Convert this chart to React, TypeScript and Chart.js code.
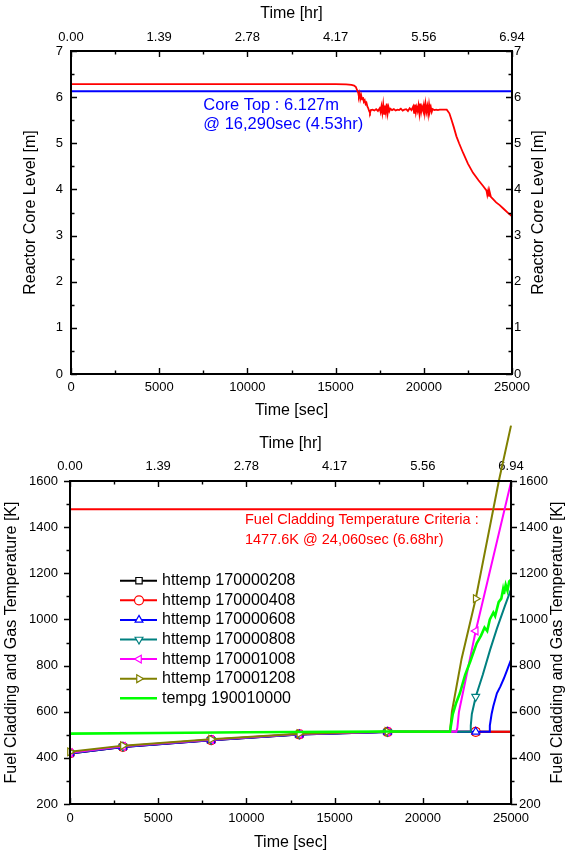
import React, { useEffect, useRef } from 'react';
import { Chart, registerables } from 'chart.js';

Chart.register(...registerables);

const FONT = "'Liberation Sans', Arial, Helvetica, sans-serif";
Chart.defaults.font.family = FONT;

// ---------------- shared axis data ----------------
const timeTicksSec = [0, 5000, 10000, 15000, 20000, 25000];
const timeTicksHr = ['0.00', '1.39', '2.78', '4.17', '5.56', '6.94'];
const levelTicks = [0, 1, 2, 3, 4, 5, 6, 7];
const tempTicks = [200, 400, 600, 800, 1000, 1200, 1400, 1600];

// ---------------- top chart: reactor core level ----------------
const coreTimeSec = [
  0, 5000, 10000, 15000, 15600, 15900, 16050, 16150, 16220, 16280,
  16320, 16360, 16400, 16450, 16500, 16550, 16600, 16650, 16700, 16750,
  16800, 16850, 16900, 16950, 17000, 17100, 17200, 17300, 17400, 17500,
  17550, 17600, 17650, 17700, 17750, 17800, 17850, 17900, 17950, 18000,
  18050, 18100, 18200, 18300, 18400, 18500, 18600, 18700, 18800, 18900,
  19000, 19100, 19200, 19300, 19400, 19450, 19500, 19550, 19600, 19650,
  19700, 19750, 19800, 19850, 19900, 19950, 20000, 20050, 20100, 20150,
  20200, 20250, 20300, 20350, 20400, 20450, 20500, 20600, 20700, 20800,
  20900, 21000, 21300, 21450, 21570, 21700, 21850, 22000, 22230, 22500,
  22790, 23100, 23350, 23550, 23600, 23650, 23700, 23750, 23800, 23900,
  24100, 24300, 24550, 24800, 25000,
];
const coreLevelM = [
  6.28, 6.28, 6.28, 6.28, 6.275, 6.265, 6.25, 6.22, 6.15, 6.1,
  6.02, 6.08, 5.96, 6.04, 5.95, 6.0, 5.9, 5.93, 5.85, 5.88,
  5.8, 5.76, 5.7, 5.66, 5.72, 5.73, 5.71, 5.74, 5.7, 5.76,
  5.68, 5.8, 5.66, 5.84, 5.64, 5.82, 5.68, 5.86, 5.65, 5.78,
  5.7, 5.75, 5.72, 5.74, 5.71, 5.73, 5.72, 5.75, 5.71, 5.73,
  5.74, 5.7, 5.76, 5.72, 5.8, 5.66, 5.84, 5.67, 5.78, 5.7,
  5.82, 5.65, 5.86, 5.68, 5.79, 5.72, 5.83, 5.66, 5.85, 5.69,
  5.8, 5.64, 5.84, 5.7, 5.78, 5.68, 5.74, 5.72, 5.73, 5.72,
  5.73, 5.73, 5.73, 5.65, 5.51, 5.35, 5.15, 5.0, 4.79, 4.56,
  4.36, 4.2, 4.08, 3.98, 3.88, 3.98, 3.86, 3.92, 3.84, 3.8,
  3.72, 3.66, 3.57, 3.48, 3.42,
];
const coreTopTimeSec = [0, 25000];
const coreTopLevelM = [6.127, 6.127];
const coreTopNote = ['Core Top : 6.127m', '@ 16,290sec (4.53hr)'];
const coreTopNoteTimeSec = 7500;
const coreTopNoteLevelM = [5.81, 5.41];

// ---------------- bottom chart: fuel cladding / gas temperature ----------------
const seriesNames = [
  'httemp 170000208',
  'httemp 170000408',
  'httemp 170000608',
  'httemp 170000808',
  'httemp 170001008',
  'httemp 170001208',
  'tempg 190010000',
];
const seriesColors = ['#000000', '#ff0000', '#0000ff', '#008080', '#ff00ff', '#808000', '#00ff00'];
const seriesMarkers = ['rect', 'circle', 'triangle', 'triangle', 'triangle', 'triangle', 'none'];
const seriesMarkerRotation = [0, 0, 0, 180, -90, 90, 0];
const markerTimesSec = [0, 3000, 8000, 13000, 18000, 23000];

const t208 = [0, 3000, 8000, 13000, 18000, 23000, 25000];
const v208 = [419, 447, 476, 501, 512, 513, 513];
const t408 = [0, 3000, 8000, 13000, 18000, 23000, 25000];
const v408 = [420, 448, 477, 502, 513, 513, 513];
const t608 = [0, 3000, 8000, 13000, 18000, 23000, 23760, 23800, 23900, 24000, 24200, 24400, 24600, 24800, 25000];
const v608 = [419, 447, 476, 501, 512, 513, 513, 540, 590, 625, 680, 710, 745, 785, 825];
const t808 = [0, 3000, 8000, 13000, 18000, 22680, 22720, 22780, 23000, 23400, 23810, 24200, 24660, 25000];
const v808 = [421, 449, 478, 502, 513, 513, 540, 590, 665, 760, 867, 960, 1060, 1130];
const t1008 = [0, 3000, 8000, 13000, 18000, 21900, 21960, 22050, 23000, 25000];
const v1008 = [422, 450, 479, 503, 513, 513, 530, 600, 950, 1595];
const t1208 = [0, 3000, 8000, 13000, 18000, 21540, 21650, 22200, 23000, 24310, 25000];
const v1208 = [426, 453, 481, 505, 514, 513, 600, 830, 1090, 1600, 1840];
const tGas = [0, 5000, 10000, 15000, 18000, 21540, 21700, 21900, 22100, 22400, 22700, 23050, 23300, 23500, 23650, 23800, 24000, 24100, 24300, 24450, 24550, 24600, 24700, 24800, 24900, 25000];
const vGas = [505, 508, 511, 513, 514, 513, 590, 640, 680, 760, 820, 896, 930, 965, 950, 1000, 1030, 1015, 1075, 1090, 1130, 1110, 1150, 1125, 1165, 1172];

const seriesTimes = [t208, t408, t608, t808, t1008, t1208, tGas];
const seriesValues = [v208, v408, v608, v808, v1008, v1208, vGas];

const criteriaTimeSec = [0, 25000];
const criteriaK = [1477.6, 1477.6];
const criteriaNote = ['Fuel Cladding Temperature Criteria :', '1477.6K @ 24,060sec (6.68hr)'];
const criteriaNoteTimeSec = 9920;
const criteriaNoteK = [1429, 1346];

// ---------------- helpers ----------------
type TextItem = { text: string; x: number; y: number; rot?: number; color?: string; size?: number; align?: CanvasTextAlign };

function textPlugin(id: string, items: (chart: any) => TextItem[]) {
  return {
    id,
    afterDraw(chart: any) {
      const ctx = chart.ctx;
      for (const it of items(chart)) {
        ctx.save();
        ctx.translate(it.x, it.y);
        if (it.rot) ctx.rotate(it.rot);
        ctx.font = `${it.size ?? 16}px ${FONT}`;
        ctx.fillStyle = it.color ?? '#000';
        ctx.textAlign = it.align ?? 'center';
        ctx.textBaseline = 'middle';
        ctx.fillText(it.text, 0, 0);
        ctx.restore();
      }
    },
  };
}

function mids(v: number[]) {
  const out: number[] = [];
  for (let i = 0; i < v.length - 1; i++) out.push((v[i] + v[i + 1]) / 2);
  return out;
}

function framePlugin(xTicks: number[], yTicks: number[], yOut: boolean) {
  return {
    id: 'frame',
    afterDatasetsDraw(chart: any) {
      const { ctx, chartArea: a } = chart;
      const xs = chart.scales.x;
      const ys = chart.scales.y;
      ctx.save();
      ctx.strokeStyle = '#000';
      ctx.lineWidth = 1.4;
      ctx.beginPath();
      const yd = yOut ? -1 : 1;
      const xTick = (vals: number[], len: number) => {
        for (const v of vals) {
          const px = Math.round(xs.getPixelForValue(v)) + 0.5;
          ctx.moveTo(px, a.bottom);
          ctx.lineTo(px, a.bottom - len);
          ctx.moveTo(px, a.top);
          ctx.lineTo(px, a.top + len);
        }
      };
      const yTick = (vals: number[], len: number) => {
        for (const v of vals) {
          const py = Math.round(ys.getPixelForValue(v)) + 0.5;
          ctx.moveTo(a.left, py);
          ctx.lineTo(a.left + yd * len, py);
          ctx.moveTo(a.right, py);
          ctx.lineTo(a.right - yd * len, py);
        }
      };
      xTick(xTicks, 6);
      xTick(mids(xTicks), 3.5);
      yTick(yTicks, 6);
      yTick(mids(yTicks), 3.5);
      ctx.stroke();
      ctx.lineWidth = 2;
      ctx.strokeRect(a.left, a.top, a.right - a.left, a.bottom - a.top);
      ctx.restore();
    },
  };
}

function drawMarker(ctx: CanvasRenderingContext2D, style: string, rotDeg: number, x: number, y: number, r: number) {
  let rad = (rotDeg * Math.PI) / 180;
  ctx.beginPath();
  if (style === 'circle') {
    ctx.arc(x, y, r, 0, Math.PI * 2);
  } else if (style === 'rect') {
    const s = Math.SQRT1_2 * r;
    ctx.rect(x - s, y - s, 2 * s, 2 * s);
  } else {
    ctx.moveTo(x + Math.sin(rad) * r, y - Math.cos(rad) * r);
    rad += (2 * Math.PI) / 3;
    ctx.lineTo(x + Math.sin(rad) * r, y - Math.cos(rad) * r);
    rad += (2 * Math.PI) / 3;
    ctx.lineTo(x + Math.sin(rad) * r, y - Math.cos(rad) * r);
    ctx.closePath();
  }
  ctx.fill();
  ctx.stroke();
}

const legendPlugin = {
  id: 'customLegend',
  afterDraw(chart: any) {
    const { ctx, chartArea: a } = chart;
    ctx.save();
    seriesNames.forEach((name, i) => {
      const y = a.top + 99.7 + i * 19.6;
      const x0 = a.left + 50;
      const x1 = a.left + 87;
      ctx.strokeStyle = seriesColors[i];
      ctx.lineWidth = i === 6 ? 2.5 : 2;
      ctx.beginPath();
      ctx.moveTo(x0, y);
      ctx.lineTo(x1, y);
      ctx.stroke();
      if (seriesMarkers[i] !== 'none') {
        ctx.fillStyle = '#fff';
        ctx.lineWidth = 1.2;
        drawMarker(ctx, seriesMarkers[i], seriesMarkerRotation[i], a.left + 69, y, 4.5);
      }
      ctx.fillStyle = '#000';
      ctx.font = `16px ${FONT}`;
      ctx.textAlign = 'left';
      ctx.textBaseline = 'middle';
      ctx.fillText(name, a.left + 92, y);
    });
    ctx.restore();
  },
};

function makeScales(p: {
  yMin: number; yMax: number; yStep: number;
  topH: number; bottomH: number; leftW: number; rightW: number;
  padTop: number; padBottom: number; padLeft: number; padRight: number;
}) {
  const tickFont = { family: FONT, size: 13 };
  const common = {
    grid: { display: false, drawTicks: false, tickLength: 0 },
    border: { display: false },
    title: { display: false },
  };
  const size = (n: number) => (s: any) => {
    if (s.isHorizontal()) s.height = n;
    else s.width = n;
  };
  const xBase = { type: 'linear', min: timeTicksSec[0], max: timeTicksSec[timeTicksSec.length - 1] };
  const yBase = { type: 'linear', min: p.yMin, max: p.yMax };
  return {
    x: {
      ...xBase, ...common, position: 'bottom', afterFit: size(p.bottomH),
      ticks: { stepSize: 5000, font: tickFont, color: '#000', padding: p.padBottom, maxRotation: 0, autoSkip: false, callback: (v: number) => String(v) },
    },
    xTop: {
      ...xBase, ...common, position: 'top', afterFit: size(p.topH),
      ticks: {
        stepSize: 5000, font: tickFont, color: '#000', padding: p.padTop, maxRotation: 0, autoSkip: false,
        callback: (v: number) => {
          const i = timeTicksSec.indexOf(v);
          return i >= 0 ? timeTicksHr[i] : (v / 3600).toFixed(2);
        },
      },
    },
    y: {
      ...yBase, ...common, position: 'left', afterFit: size(p.leftW),
      ticks: { stepSize: p.yStep, font: tickFont, color: '#000', padding: p.padLeft, autoSkip: false, callback: (v: number) => String(v) },
    },
    yRight: {
      ...yBase, ...common, position: 'right', afterFit: size(p.rightW),
      ticks: { stepSize: p.yStep, font: tickFont, color: '#000', padding: p.padRight, autoSkip: false, callback: (v: number) => String(v) },
    },
  };
}

function buildLevelChart(canvas: HTMLCanvasElement) {
  const titles = textPlugin('titles', (chart: any) => {
    const a = chart.chartArea;
    const cx = (a.left + a.right) / 2;
    const cy = (a.top + a.bottom) / 2;
    const xs = chart.scales.x;
    const ys = chart.scales.y;
    const nx = xs.getPixelForValue(coreTopNoteTimeSec);
    return [
      { text: 'Time [hr]', x: cx, y: 14 },
      { text: 'Time [sec]', x: cx, y: 411 },
      { text: 'Reactor Core Level [m]', x: 30.5, y: cy, rot: -Math.PI / 2 },
      { text: 'Reactor Core Level [m]', x: 538.5, y: cy, rot: -Math.PI / 2 },
      { text: coreTopNote[0], x: nx, y: ys.getPixelForValue(coreTopNoteLevelM[0]), color: '#0000ff', size: 16.5, align: 'left' },
      { text: coreTopNote[1], x: nx, y: ys.getPixelForValue(coreTopNoteLevelM[1]), color: '#0000ff', size: 16.5, align: 'left' },
    ];
  });
  return new Chart(canvas, {
    type: 'line',
    data: {
      datasets: [
        {
          label: 'Core level',
          data: coreTimeSec.map((t, i) => ({ x: t, y: coreLevelM[i] })),
          borderColor: '#ff0000',
          borderWidth: 1.8,
          pointRadius: 0,
          tension: 0,
        },
        {
          label: 'Core top',
          data: coreTopTimeSec.map((t, i) => ({ x: t, y: coreTopLevelM[i] })),
          borderColor: '#0000ff',
          borderWidth: 2,
          pointRadius: 0,
        },
      ],
    } as any,
    options: {
      responsive: false,
      animation: false,
      layout: { padding: 0 },
      plugins: { legend: { display: false }, tooltip: { enabled: false } },
      scales: makeScales({
        yMin: levelTicks[0], yMax: levelTicks[levelTicks.length - 1], yStep: 1,
        topH: 51, bottomH: 50, leftW: 71, rightW: 55,
        padTop: 6, padBottom: 6, padLeft: 8, padRight: 2,
      }) as any,
    } as any,
    plugins: [framePlugin(timeTicksSec, levelTicks, false), titles] as any,
  });
}

function buildTempChart(canvas: HTMLCanvasElement) {
  const titles = textPlugin('titles', (chart: any) => {
    const a = chart.chartArea;
    const cx = (a.left + a.right) / 2;
    const cy = (a.top + a.bottom) / 2;
    const xs = chart.scales.x;
    const ys = chart.scales.y;
    const nx = xs.getPixelForValue(criteriaNoteTimeSec);
    return [
      { text: 'Time [hr]', x: cx, y: 19.3 },
      { text: 'Time [sec]', x: cx, y: 419 },
      { text: 'Fuel Cladding and Gas Temperature [K]', x: 12, y: cy, rot: -Math.PI / 2 },
      { text: 'Fuel Cladding and Gas Temperature [K]', x: 558, y: cy, rot: -Math.PI / 2 },
      { text: criteriaNote[0], x: nx, y: ys.getPixelForValue(criteriaNoteK[0]), color: '#ff0000', size: 14.5, align: 'left' },
      { text: criteriaNote[1], x: nx, y: ys.getPixelForValue(criteriaNoteK[1]), color: '#ff0000', size: 14.5, align: 'left' },
    ];
  });
  const datasets: any[] = seriesNames.map((name, i) => ({
    label: name,
    data: seriesTimes[i].map((t, j) => ({ x: t, y: seriesValues[i][j] })),
    borderColor: seriesColors[i],
    borderWidth: i === 6 ? 2.6 : 2,
    pointStyle: seriesMarkers[i] === 'none' ? false : seriesMarkers[i],
    pointRotation: seriesMarkerRotation[i],
    pointRadius: seriesMarkers[i] === 'none' ? 0 : seriesTimes[i].map((t) => (markerTimesSec.includes(t) ? 4.5 : 0)),
    pointBackgroundColor: '#ffffff',
    pointBorderColor: seriesColors[i],
    pointBorderWidth: 1.2,
    tension: 0,
    order: seriesNames.length - i,
    clip: i === 5 ? false : undefined,
  }));
  datasets.push({
    label: 'criteria',
    data: criteriaTimeSec.map((t, i) => ({ x: t, y: criteriaK[i] })),
    borderColor: '#ff0000',
    borderWidth: 2,
    pointRadius: 0,
    order: 20,
  });
  return new Chart(canvas, {
    type: 'line',
    data: { datasets },
    options: {
      responsive: false,
      animation: false,
      layout: { padding: 0 },
      plugins: { legend: { display: false }, tooltip: { enabled: false } },
      scales: makeScales({
        yMin: tempTicks[0], yMax: tempTicks[tempTicks.length - 1], yStep: 200,
        topH: 57, bottomH: 52, leftW: 70, rightW: 56,
        padTop: 7, padBottom: 7, padLeft: 12, padRight: 8,
      }) as any,
    } as any,
    plugins: [framePlugin(timeTicksSec, tempTicks, true), titles, legendPlugin] as any,
  });
}

function ChartCanvas({ top, height, build }: { top: number; height: number; build: (c: HTMLCanvasElement) => Chart }) {
  const ref = useRef<HTMLCanvasElement>(null);
  useEffect(() => {
    const chart = build(ref.current!);
    return () => chart.destroy();
  }, []);
  return (
    <canvas
      ref={ref}
      width={567}
      height={height}
      style={{ position: 'absolute', left: 0, top, width: 567, height, display: 'block' }}
    />
  );
}

export default function App() {
  return (
    <div style={{ position: 'absolute', left: 0, top: 0, width: 567, height: 856, background: '#ffffff', overflow: 'hidden' }}>
      <ChartCanvas top={0} height={424} build={buildLevelChart} />
      <ChartCanvas top={424} height={432} build={buildTempChart} />
    </div>
  );
}
